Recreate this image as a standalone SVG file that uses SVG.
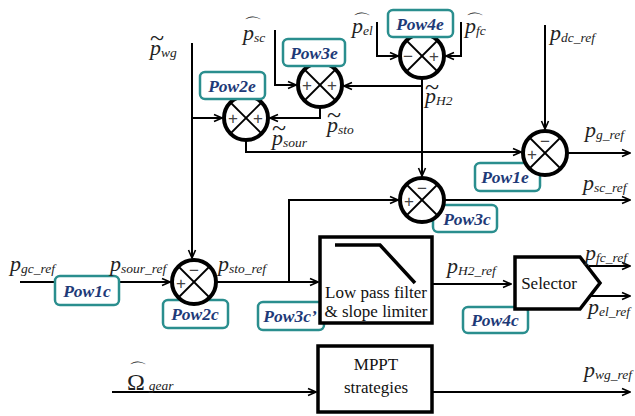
<svg xmlns="http://www.w3.org/2000/svg" width="635" height="416" viewBox="0 0 635 416">
<defs>
<marker id="ar" markerWidth="10" markerHeight="10" refX="9" refY="5" orient="auto" markerUnits="userSpaceOnUse">
<path d="M1,1.5 L9,5 L1,8.5" fill="none" stroke="#000" stroke-width="1.6"/>
</marker>
<style>
.w2{fill:none;stroke:#000;stroke-width:2;marker-end:url(#ar)}
.sum{fill:#fff;stroke:#000;stroke-width:4}
.x{stroke:#000;stroke-width:1.8}
.sg{font-family:"Liberation Sans",sans-serif;font-size:17px;fill:#444}
.tag{fill:#fff;stroke:#2a8e8e;stroke-width:2.5}
.tt{font-family:"Liberation Serif",serif;font-size:17.5px;font-weight:bold;font-style:italic;fill:#1e3a78;text-anchor:middle}
.v{font-family:"Liberation Serif",serif;font-size:22px;font-style:italic;fill:#222}
.sub{font-size:13.5px}
.acc{font-family:"Liberation Serif",serif;font-size:26px;fill:#222}
.hat{font-family:"DejaVu Sans",sans-serif;font-size:18px;fill:#222}
.blk{fill:#fff;stroke:#000;stroke-width:3.5}
.bt{font-family:"Liberation Serif",serif;font-size:17px;fill:#111;text-anchor:middle}
</style>
</defs>
<g id="connectors">
<path class="w2" d="M545,25 V129"/>
<path class="w2" d="M567,153 H630"/>
<path class="w2" d="M246,140 V152 H521"/>
<path class="w2" d="M422,78 V176"/>
<path class="w2" d="M422,86 H344"/>
<path class="w2" d="M275,30 V85 H296"/>
<path class="w2" d="M320,107 V118 H270"/>
<path class="w2" d="M192,43 V258"/>
<path class="w2" d="M192,118 H222"/>
<path class="w2" d="M377,22 V56 H398"/>
<path class="w2" d="M461,22 V56 H446"/>
<path class="w2" d="M20,282 H170"/>
<path class="w2" d="M216,282 H318"/>
<path class="w2" d="M289,282 V200 H398"/>
<path class="w2" d="M444,200 H630"/>
<path class="w2" d="M432,284 H511"/>
<path class="w2" d="M589,266 H630"/>
<path class="w2" d="M589,296 H630"/>
<path class="w2" d="M112,392 H316"/>
<path class="w2" d="M432,392 H630"/>
</g>
<g id="Pow4e">
<circle class="sum" cx="422" cy="56" r="22"/>
<line class="x" x1="406" y1="40" x2="438" y2="72"/><line class="x" x1="438" y1="40" x2="406" y2="72"/>
<text class="sg" x="403" y="62">−</text><text class="sg" x="429" y="62">+</text>
<rect class="tag" x="388" y="10" width="65" height="27" rx="5"/>
<text class="tt" x="420" y="30">Pow4e</text>
</g>
<g id="Pow3e">
<circle class="sum" cx="320" cy="85" r="22"/>
<line class="x" x1="304" y1="69" x2="336" y2="101"/><line class="x" x1="336" y1="69" x2="304" y2="101"/>
<text class="sg" x="302" y="91">+</text><text class="sg" x="327" y="91">+</text>
<rect class="tag" x="283" y="39" width="62" height="27" rx="5"/>
<text class="tt" x="314" y="59">Pow3e</text>
</g>
<g id="Pow2e">
<circle class="sum" cx="246" cy="118" r="22"/>
<line class="x" x1="230" y1="102" x2="262" y2="134"/><line class="x" x1="262" y1="102" x2="230" y2="134"/>
<text class="sg" x="228" y="124">+</text><text class="sg" x="253" y="124">+</text>
<rect class="tag" x="200" y="72" width="65" height="27" rx="5"/>
<text class="tt" x="232" y="92">Pow2e</text>
</g>
<g id="Pow1e">
<rect class="tag" x="475" y="163" width="65" height="28" rx="5"/>
<text class="tt" x="505" y="183">Pow1e</text>
<circle class="sum" cx="545" cy="153" r="22"/>
<line class="x" x1="529" y1="137" x2="561" y2="169"/><line class="x" x1="561" y1="137" x2="529" y2="169"/>
<text class="sg" x="540" y="147">−</text><text class="sg" x="527" y="160">+</text>
</g>
<g id="Pow3c">
<rect class="tag" x="433" y="205" width="64" height="27" rx="5"/>
<text class="tt" x="467" y="225">Pow3c</text>
<circle class="sum" cx="422" cy="200" r="22"/>
<line class="x" x1="406" y1="184" x2="438" y2="216"/><line class="x" x1="438" y1="184" x2="406" y2="216"/>
<text class="sg" x="417" y="194">−</text><text class="sg" x="404" y="207">+</text>
</g>
<g id="Pow2c">
<rect class="tag" x="163" y="300" width="65" height="28" rx="5"/>
<text class="tt" x="195" y="320">Pow2c</text>
<circle class="sum" cx="194" cy="282" r="22"/>
<line class="x" x1="178" y1="266" x2="210" y2="298"/><line class="x" x1="210" y1="266" x2="178" y2="298"/>
<text class="sg" x="189" y="276">−</text><text class="sg" x="176" y="289">+</text>
</g>
<g id="Pow1c">
<rect class="tag" x="55" y="276" width="64" height="29" rx="5"/>
<text class="tt" x="87" y="297">Pow1c</text>
</g>
<g id="Pow3c_prime">
<rect class="tag" x="258" y="302" width="66" height="28" rx="5"/>
<text class="tt" x="290" y="322">Pow3c’</text>
</g>
<g id="Pow4c">
<rect class="tag" x="463" y="307" width="65" height="26" rx="5"/>
<text class="tt" x="495" y="326">Pow4c</text>
</g>
<g id="LPF">
<rect class="blk" x="320" y="237" width="112" height="86"/>
<polyline points="335,245 380,245 415,283" fill="none" stroke="#000" stroke-width="3.5"/>
<text class="bt" x="376" y="298">Low pass filter</text>
<text class="bt" x="376" y="317">&amp; slope limiter</text>
</g>
<g id="Selector">
<polygon class="blk" points="515,257 580,257 600,283 580,309 515,309"/>
<text class="bt" x="549" y="289">Selector</text>
</g>
<g id="MPPT">
<rect class="blk" x="318" y="346" width="114" height="66"/>
<text class="bt" x="376" y="370">MPPT</text>
<text class="bt" x="376" y="393">strategies</text>
</g>
<g id="labels">
<text class="v" x="150" y="55">p<tspan class="sub" dy="2">wg</tspan></text><text class="acc" x="150" y="46">~</text>
<text class="v" x="243" y="40">p<tspan class="sub" dy="2">sc</tspan></text><text class="hat" x="244" y="31">⌒</text>
<text class="v" x="352" y="33">p<tspan class="sub" dy="2">el</tspan></text><text class="hat" x="353" y="27">⌒</text>
<text class="v" x="465" y="33">p<tspan class="sub" dy="2">fc</tspan></text><text class="hat" x="466" y="27">⌒</text>
<text class="v" x="550" y="40">p<tspan class="sub" dy="2">dc_ref</tspan></text>
<text class="v" x="425" y="103">p<tspan class="sub" dy="2">H2</tspan></text><text class="acc" x="425" y="95">~</text>
<text class="v" x="327" y="132">p<tspan class="sub" dy="2">sto</tspan></text><text class="acc" x="327" y="123">~</text>
<text class="v" x="272" y="145">p<tspan class="sub" dy="2">sour</tspan></text><text class="acc" x="272" y="136">~</text>
<text class="v" x="585" y="137">p<tspan class="sub" dy="2">g_ref</tspan></text>
<text class="v" x="583" y="190">p<tspan class="sub" dy="2">sc_ref</tspan></text>
<text class="v" x="10" y="271">p<tspan class="sub" dy="2">gc_ref</tspan></text>
<text class="v" x="110" y="271">p<tspan class="sub" dy="2">sour_ref</tspan></text>
<text class="v" x="218" y="271">p<tspan class="sub" dy="2">sto_ref</tspan></text>
<text class="v" x="447" y="273">p<tspan class="sub" dy="2">H2_ref</tspan></text>
<text class="v" x="585" y="260">p<tspan class="sub" dy="2">fc_ref</tspan></text>
<text class="v" x="588" y="314">p<tspan class="sub" dy="2">el_ref</tspan></text>
<text class="v" x="584" y="377">p<tspan class="sub" dy="2">wg_ref</tspan></text>
<text x="127" y="390" font-family="Liberation Serif,serif" font-size="24" fill="#222">Ω<tspan font-size="13.5" font-style="italic" dx="4">gear</tspan></text><text class="hat" x="129" y="376">⌒</text>
</g>
</svg>
